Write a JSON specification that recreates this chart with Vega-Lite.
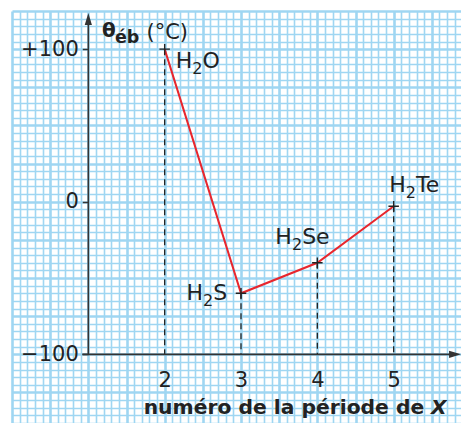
{
  "$schema": "https://vega.github.io/schema/vega-lite/v6.json",
  "width": 449,
  "height": 412,
  "autosize": {"type": "none"},
  "padding": {"left": 12, "top": 11, "right": 0, "bottom": 0},
  "background": "white",
  "config": {"view": {"stroke": null}, "font": "DejaVu Sans", "text": {"font": "DejaVu Sans", "color": "#222", "baseline": "alphabetic", "align": "left"}},
  "datasets": {
    "pts": [
      {"periode": 2, "teb": 100, "compose": "H₂O", "a": "H", "b": "2", "c": "O"},
      {"periode": 3, "teb": -60, "compose": "H₂S", "a": "H", "b": "2", "c": "S"},
      {"periode": 4, "teb": -40, "compose": "H₂Se", "a": "H", "b": "2", "c": "Se"},
      {"periode": 5, "teb": -3, "compose": "H₂Te", "a": "H", "b": "2", "c": "Te"}
    ]
  },
  "data": {"name": "pts"},
  "layer": [
    {
      "mark": {"type": "rule", "strokeDash": [6, 4], "color": "#222", "strokeWidth": 1.3},
      "encoding": {
        "x": {
          "field": "periode", "type": "quantitative",
          "scale": {"domain": [0, 5.882], "nice": false, "zero": false},
          "axis": {
            "title": null, "orient": "bottom", "offset": -68.7, "tickCount": 500,
            "values": [0,0.1,0.2,0.3,0.4,0.5,0.6,0.7,0.8,0.9,1,1.1,1.2,1.3,1.4,1.5,1.6,1.7,1.8,1.9,2,2.1,2.2,2.3,2.4,2.5,2.6,2.7,2.8,2.9,3,3.1,3.2,3.3,3.4,3.5,3.6,3.7,3.8,3.9,4,4.1,4.2,4.3,4.4,4.5,4.6,4.7,4.8,4.9,5,5.1,5.2,5.3,5.4,5.5,5.6,5.7,5.8],
            "grid": true, "gridColor": "#9fd6f2", "gridOpacity": 1,
            "gridWidth": {"condition": {"test": "abs(datum.value*2-round(datum.value*2))<0.001", "value": 2.6}, "value": 1.6},
            "domain": false, "ticks": false, "tickSize": 0,
            "labelExpr": "datum.value>=1.999 && abs(datum.value-round(datum.value))<0.001 ? format(round(datum.value),'d') : ''",
            "labelFontSize": 21, "labelColor": "#222", "labelPadding": 32, "labelBaseline": "alphabetic",
            "labelOverlap": false, "labelFlush": false, "labelBound": false, "labelFont": "DejaVu Sans"
          }
        },
        "y": {
          "field": "teb", "type": "quantitative",
          "scale": {"domain": [-145, 125], "nice": false, "zero": false},
          "axis": {
            "title": null, "orient": "left", "offset": -76.3, "tickCount": 500,
            "values": [-145,-140,-135,-130,-125,-120,-115,-110,-105,-100,-95,-90,-85,-80,-75,-70,-65,-60,-55,-50,-45,-40,-35,-30,-25,-20,-15,-10,-5,0,5,10,15,20,25,30,35,40,45,50,55,60,65,70,75,80,85,90,95,100,105,110,115,120,125],
            "grid": true, "gridColor": "#9fd6f2", "gridOpacity": 1,
            "gridWidth": {"condition": {"test": "abs(datum.value/25-round(datum.value/25))<0.001", "value": 2.6}, "value": 1.6},
            "domain": false, "ticks": true, "tickSize": 6, "tickWidth": 1.5, "tickColor": "#333",
            "tickOpacity": {"condition": {"test": "datum.value==100 || datum.value==0 || datum.value==-100", "value": 1}, "value": 0},
            "labelExpr": "datum.value==100 ? '+100' : datum.value==0 ? '0' : datum.value==-100 ? '−100' : ''",
            "labelFontSize": 21, "labelColor": "#222", "labelPadding": 4,
            "labelOverlap": false, "labelFlush": false, "labelBound": false, "labelFont": "DejaVu Sans"
          }
        },
        "y2": {"datum": -100}
      }
    },
    {
      "mark": {"type": "line", "color": "#e8262d", "strokeWidth": 2},
      "encoding": {
        "x": {"field": "periode", "type": "quantitative"},
        "y": {"field": "teb", "type": "quantitative"}
      }
    },
    {
      "mark": {"type": "point", "shape": "M-1,0H1M0,-1V1", "filled": false, "stroke": "#222", "strokeWidth": 1.4, "size": 110, "opacity": 1},
      "encoding": {
        "x": {"field": "periode", "type": "quantitative"},
        "y": {"field": "teb", "type": "quantitative"}
      }
    },
    {
      "data": {"values": [{}]},
      "mark": {"type": "rule", "color": "#333", "strokeWidth": 1.6},
      "encoding": {"x": {"datum": 1}, "y": {"datum": -100}, "y2": {"datum": 120}}
    },
    {
      "data": {"values": [{}]},
      "mark": {"type": "rule", "color": "#333", "strokeWidth": 1.6},
      "encoding": {"x": {"datum": 0.92}, "x2": {"datum": 5.8}, "y": {"datum": -100}}
    },
    {
      "data": {"values": [{}]},
      "mark": {"type": "point", "shape": "M0,-1L0.6,1L-0.6,1Z", "filled": true, "color": "#333", "size": 144, "opacity": 1},
      "encoding": {"x": {"datum": 1}, "y": {"datum": 119.7}}
    },
    {
      "data": {"values": [{}]},
      "mark": {"type": "point", "shape": "M1,0L-1,0.6L-1,-0.6Z", "filled": true, "color": "#333", "size": 144, "opacity": 1},
      "encoding": {"x": {"datum": 5.804}, "y": {"datum": -100}}
    },
    {
      "transform": [{"filter": "datum.compose == 'H₂O'"}],
      "encoding": {"x": {"field": "periode", "type": "quantitative"}, "y": {"field": "teb", "type": "quantitative"}},
      "layer": [
        {"mark": {"type": "text", "fontSize": 22, "dx": 11, "dy": 19}, "encoding": {"text": {"field": "a"}}},
        {"mark": {"type": "text", "fontSize": 16, "dx": 27.6, "dy": 25}, "encoding": {"text": {"field": "b"}}},
        {"mark": {"type": "text", "fontSize": 22, "dx": 37.8, "dy": 19}, "encoding": {"text": {"field": "c"}}}
      ]
    },
    {
      "transform": [{"filter": "datum.compose == 'H₂S'"}],
      "encoding": {"x": {"field": "periode", "type": "quantitative"}, "y": {"field": "teb", "type": "quantitative"}},
      "layer": [
        {"mark": {"type": "text", "fontSize": 22, "dx": -54.5, "dy": 7}, "encoding": {"text": {"field": "a"}}},
        {"mark": {"type": "text", "fontSize": 16, "dx": -37.9, "dy": 13}, "encoding": {"text": {"field": "b"}}},
        {"mark": {"type": "text", "fontSize": 22, "dx": -27.7, "dy": 7}, "encoding": {"text": {"field": "c"}}}
      ]
    },
    {
      "transform": [{"filter": "datum.compose == 'H₂Se'"}],
      "encoding": {"x": {"field": "periode", "type": "quantitative"}, "y": {"field": "teb", "type": "quantitative"}},
      "layer": [
        {"mark": {"type": "text", "fontSize": 22, "dx": -42, "dy": -18.5}, "encoding": {"text": {"field": "a"}}},
        {"mark": {"type": "text", "fontSize": 16, "dx": -25.4, "dy": -12.5}, "encoding": {"text": {"field": "b"}}},
        {"mark": {"type": "text", "fontSize": 22, "dx": -15.2, "dy": -18.5}, "encoding": {"text": {"field": "c"}}}
      ]
    },
    {
      "transform": [{"filter": "datum.compose == 'H₂Te'"}],
      "encoding": {"x": {"field": "periode", "type": "quantitative"}, "y": {"field": "teb", "type": "quantitative"}},
      "layer": [
        {"mark": {"type": "text", "fontSize": 22, "dx": -4.5, "dy": -14}, "encoding": {"text": {"field": "a"}}},
        {"mark": {"type": "text", "fontSize": 16, "dx": 12.1, "dy": -8}, "encoding": {"text": {"field": "b"}}},
        {"mark": {"type": "text", "fontSize": 22, "dx": 22.3, "dy": -14}, "encoding": {"text": {"field": "c"}}}
      ]
    },
    {
      "data": {"values": [{"t": "θ"}]},
      "mark": {"type": "text", "fontSize": 20, "fontWeight": "bold"},
      "encoding": {"x": {"datum": 1.179}, "y": {"datum": 107.9}, "text": {"field": "t"}}
    },
    {
      "data": {"values": [{"t": "éb"}]},
      "mark": {"type": "text", "fontSize": 17.5, "fontWeight": "bold"},
      "encoding": {"x": {"datum": 1.349}, "y": {"datum": 104.0}, "text": {"field": "t"}}
    },
    {
      "data": {"values": [{"t": "(°C)"}]},
      "mark": {"type": "text", "fontSize": 21},
      "encoding": {"x": {"datum": 1.762}, "y": {"datum": 106.6}, "text": {"field": "t"}}
    },
    {
      "data": {"values": [{"t": "numéro de la période de"}]},
      "mark": {"type": "text", "align": "right", "fontSize": 20.3, "fontWeight": "bold"},
      "encoding": {"x": {"datum": 5.40}, "y": {"datum": -139.1}, "text": {"field": "t"}}
    },
    {
      "data": {"values": [{"t": "X"}]},
      "mark": {"type": "text", "fontSize": 20.3, "fontWeight": "bold", "fontStyle": "italic"},
      "encoding": {"x": {"datum": 5.49}, "y": {"datum": -139.1}, "text": {"field": "t"}}
    }
  ]
}
